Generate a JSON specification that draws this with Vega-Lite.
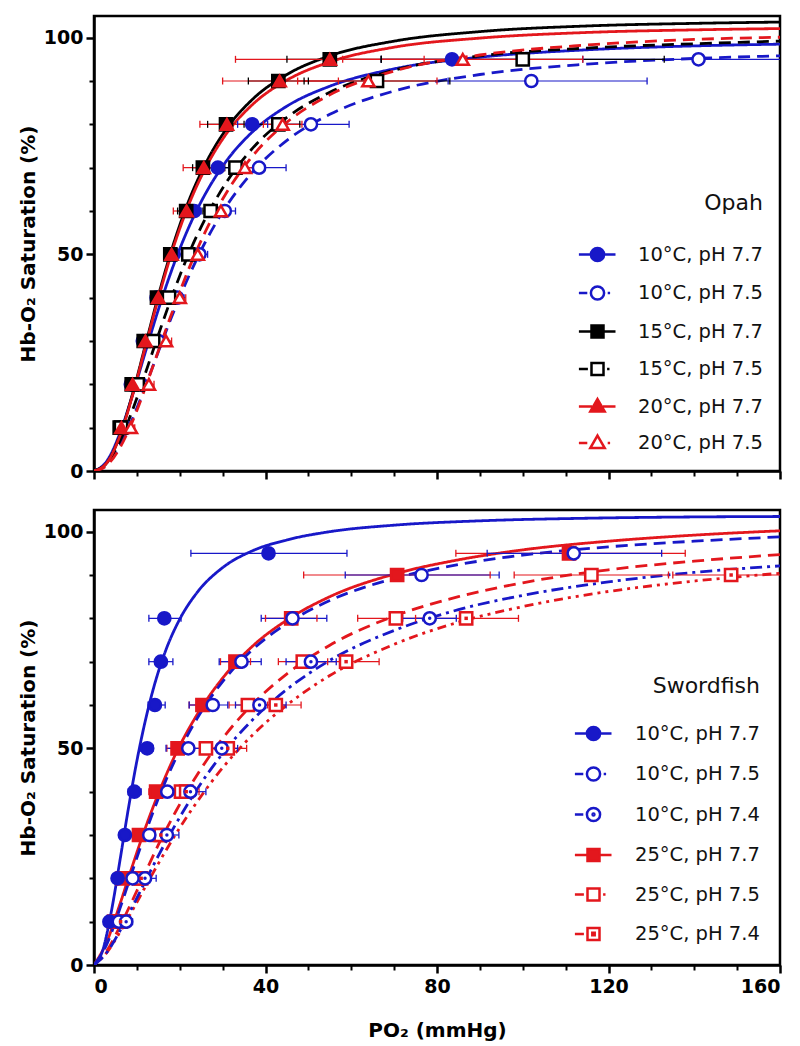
{
  "$schema": "https://vega.github.io/schema/vega-lite/v6.json",
  "padding": {"left": 17, "top": 14, "right": 19, "bottom": 5},
  "spacing": 39,
  "bounds": "flush",
  "config": {
    "font": "DejaVu Sans",
    "view": {"stroke": "#000", "strokeWidth": 2.5},
    "axis": {"grid": false, "domainColor": "#000", "domainWidth": 2.5, "tickColor": "#000", "labelColor": "#000", "titleColor": "#000", "labelFont": "DejaVu Sans", "titleFont": "DejaVu Sans", "labelFontWeight": "bold", "labelFontSize": 19, "titleFontWeight": "bold", "titleFontSize": 20},
    "legend": {"labelFont": "DejaVu Sans", "titleFont": "DejaVu Sans"}
  },
  "datasets": {
    "opahCurves": [
      {"s":"10°C, pH 7.7","x":0,"y":0},{"s":"10°C, pH 7.7","x":3,"y":2.3},{"s":"10°C, pH 7.7","x":6,"y":8.6},{"s":"10°C, pH 7.7","x":9,"y":17.6},{"s":"10°C, pH 7.7","x":12,"y":27.5},{"s":"10°C, pH 7.7","x":15,"y":37.2},{"s":"10°C, pH 7.7","x":18,"y":46.0},{"s":"10°C, pH 7.7","x":22,"y":56.0},{"s":"10°C, pH 7.7","x":26,"y":64.0},{"s":"10°C, pH 7.7","x":31,"y":71.7},{"s":"10°C, pH 7.7","x":37,"y":78.3},{"s":"10°C, pH 7.7","x":45,"y":84.2},{"s":"10°C, pH 7.7","x":55,"y":88.8},{"s":"10°C, pH 7.7","x":70,"y":92.8},{"s":"10°C, pH 7.7","x":90,"y":95.5},{"s":"10°C, pH 7.7","x":115,"y":97.2},{"s":"10°C, pH 7.7","x":140,"y":98.1},{"s":"10°C, pH 7.7","x":160,"y":98.5},
      {"s":"10°C, pH 7.5","x":0,"y":0},{"s":"10°C, pH 7.5","x":3,"y":1.5},{"s":"10°C, pH 7.5","x":6,"y":5.8},{"s":"10°C, pH 7.5","x":9,"y":12.1},{"s":"10°C, pH 7.5","x":12,"y":19.6},{"s":"10°C, pH 7.5","x":15,"y":27.5},{"s":"10°C, pH 7.5","x":18,"y":35.3},{"s":"10°C, pH 7.5","x":22,"y":44.7},{"s":"10°C, pH 7.5","x":26,"y":52.9},{"s":"10°C, pH 7.5","x":31,"y":61.3},{"s":"10°C, pH 7.5","x":37,"y":69.0},{"s":"10°C, pH 7.5","x":45,"y":76.3},{"s":"10°C, pH 7.5","x":55,"y":82.3},{"s":"10°C, pH 7.5","x":70,"y":87.7},{"s":"10°C, pH 7.5","x":90,"y":91.5},{"s":"10°C, pH 7.5","x":115,"y":93.9},{"s":"10°C, pH 7.5","x":140,"y":95.2},{"s":"10°C, pH 7.5","x":160,"y":95.8},
      {"s":"15°C, pH 7.5","x":0,"y":0},{"s":"15°C, pH 7.5","x":3,"y":1.8},{"s":"15°C, pH 7.5","x":6,"y":6.8},{"s":"15°C, pH 7.5","x":9,"y":14.1},{"s":"15°C, pH 7.5","x":12,"y":22.6},{"s":"15°C, pH 7.5","x":15,"y":31.4},{"s":"15°C, pH 7.5","x":18,"y":39.8},{"s":"15°C, pH 7.5","x":22,"y":49.9},{"s":"15°C, pH 7.5","x":26,"y":58.3},{"s":"15°C, pH 7.5","x":31,"y":66.8},{"s":"15°C, pH 7.5","x":37,"y":74.5},{"s":"15°C, pH 7.5","x":45,"y":81.6},{"s":"15°C, pH 7.5","x":55,"y":87.4},{"s":"15°C, pH 7.5","x":70,"y":92.5},{"s":"15°C, pH 7.5","x":90,"y":95.8},{"s":"15°C, pH 7.5","x":115,"y":97.6},{"s":"15°C, pH 7.5","x":140,"y":98.6},{"s":"15°C, pH 7.5","x":160,"y":99.2},
      {"s":"15°C, pH 7.7","x":0,"y":0},{"s":"15°C, pH 7.7","x":3,"y":1.9},{"s":"15°C, pH 7.7","x":6,"y":8.1},{"s":"15°C, pH 7.7","x":9,"y":17.8},{"s":"15°C, pH 7.7","x":12,"y":29.1},{"s":"15°C, pH 7.7","x":15,"y":40.4},{"s":"15°C, pH 7.7","x":18,"y":50.7},{"s":"15°C, pH 7.7","x":22,"y":62.1},{"s":"15°C, pH 7.7","x":26,"y":70.9},{"s":"15°C, pH 7.7","x":31,"y":79.1},{"s":"15°C, pH 7.7","x":37,"y":85.8},{"s":"15°C, pH 7.7","x":45,"y":91.5},{"s":"15°C, pH 7.7","x":55,"y":95.8},{"s":"15°C, pH 7.7","x":70,"y":99.2},{"s":"15°C, pH 7.7","x":90,"y":101.4},{"s":"15°C, pH 7.7","x":115,"y":102.7},{"s":"15°C, pH 7.7","x":140,"y":103.3},{"s":"15°C, pH 7.7","x":160,"y":103.6},
      {"s":"20°C, pH 7.5","x":0,"y":0},{"s":"20°C, pH 7.5","x":3,"y":1.3},{"s":"20°C, pH 7.5","x":6,"y":5.3},{"s":"20°C, pH 7.5","x":9,"y":11.5},{"s":"20°C, pH 7.5","x":12,"y":19.3},{"s":"20°C, pH 7.5","x":15,"y":27.7},{"s":"20°C, pH 7.5","x":18,"y":36.0},{"s":"20°C, pH 7.5","x":22,"y":46.4},{"s":"20°C, pH 7.5","x":26,"y":55.3},{"s":"20°C, pH 7.5","x":31,"y":64.4},{"s":"20°C, pH 7.5","x":37,"y":72.7},{"s":"20°C, pH 7.5","x":45,"y":80.5},{"s":"20°C, pH 7.5","x":55,"y":86.8},{"s":"20°C, pH 7.5","x":70,"y":92.3},{"s":"20°C, pH 7.5","x":90,"y":96.0},{"s":"20°C, pH 7.5","x":115,"y":98.3},{"s":"20°C, pH 7.5","x":140,"y":99.6},{"s":"20°C, pH 7.5","x":160,"y":100.1},
      {"s":"20°C, pH 7.7","x":0,"y":0},{"s":"20°C, pH 7.7","x":3,"y":1.9},{"s":"20°C, pH 7.7","x":6,"y":8.0},{"s":"20°C, pH 7.7","x":9,"y":17.5},{"s":"20°C, pH 7.7","x":12,"y":28.7},{"s":"20°C, pH 7.7","x":15,"y":39.8},{"s":"20°C, pH 7.7","x":18,"y":50.0},{"s":"20°C, pH 7.7","x":22,"y":61.2},{"s":"20°C, pH 7.7","x":26,"y":69.9},{"s":"20°C, pH 7.7","x":31,"y":78.0},{"s":"20°C, pH 7.7","x":37,"y":84.6},{"s":"20°C, pH 7.7","x":45,"y":90.2},{"s":"20°C, pH 7.7","x":55,"y":94.4},{"s":"20°C, pH 7.7","x":70,"y":97.8},{"s":"20°C, pH 7.7","x":90,"y":99.9},{"s":"20°C, pH 7.7","x":115,"y":101.2},{"s":"20°C, pH 7.7","x":140,"y":101.8},{"s":"20°C, pH 7.7","x":160,"y":102.1}
    ],
    "opahPts": [
      {"s":"10°C, pH 7.7","sat":10,"po2":6.2,"lo":5.5,"hi":7.0},{"s":"10°C, pH 7.7","sat":20,"po2":8.6,"lo":7.8,"hi":9.4},{"s":"10°C, pH 7.7","sat":30,"po2":11.4,"lo":10.5,"hi":12.3},{"s":"10°C, pH 7.7","sat":40,"po2":14.6,"lo":13.5,"hi":15.7},{"s":"10°C, pH 7.7","sat":50,"po2":18.6,"lo":17.4,"hi":19.8},{"s":"10°C, pH 7.7","sat":60,"po2":23.4,"lo":22,"hi":25},{"s":"10°C, pH 7.7","sat":70,"po2":28.9,"lo":26.5,"hi":31.5},{"s":"10°C, pH 7.7","sat":80,"po2":36.9,"lo":33.5,"hi":40.5},{"s":"10°C, pH 7.7","sat":95,"po2":83.5,"lo":67,"hi":100},
      {"s":"10°C, pH 7.5","sat":10,"po2":7.4,"lo":6.6,"hi":8.2},{"s":"10°C, pH 7.5","sat":20,"po2":11,"lo":10,"hi":12},{"s":"10°C, pH 7.5","sat":30,"po2":15,"lo":14,"hi":16.2},{"s":"10°C, pH 7.5","sat":40,"po2":19.4,"lo":18,"hi":21},{"s":"10°C, pH 7.5","sat":50,"po2":24.6,"lo":23,"hi":26.5},{"s":"10°C, pH 7.5","sat":60,"po2":30.5,"lo":28,"hi":33},{"s":"10°C, pH 7.5","sat":70,"po2":38.5,"lo":33.5,"hi":44.8},{"s":"10°C, pH 7.5","sat":80,"po2":50.6,"lo":42,"hi":59.5},{"s":"10°C, pH 7.5","sat":90,"po2":102,"lo":82.6,"hi":129},{"s":"10°C, pH 7.5","sat":95,"po2":141,"lo":114,"hi":175},
      {"s":"15°C, pH 7.7","sat":10,"po2":6.0,"lo":5.3,"hi":6.8},{"s":"15°C, pH 7.7","sat":20,"po2":8.8,"lo":8,"hi":9.6},{"s":"15°C, pH 7.7","sat":30,"po2":11.6,"lo":10.6,"hi":12.6},{"s":"15°C, pH 7.7","sat":40,"po2":14.7,"lo":13.6,"hi":15.8},{"s":"15°C, pH 7.7","sat":50,"po2":17.8,"lo":16.6,"hi":19},{"s":"15°C, pH 7.7","sat":60,"po2":21.5,"lo":19.5,"hi":23.5},{"s":"15°C, pH 7.7","sat":70,"po2":25.4,"lo":23,"hi":28},{"s":"15°C, pH 7.7","sat":80,"po2":30.8,"lo":26.5,"hi":35},{"s":"15°C, pH 7.7","sat":90,"po2":43,"lo":36,"hi":50},{"s":"15°C, pH 7.7","sat":95,"po2":55,"lo":45,"hi":67},
      {"s":"15°C, pH 7.5","sat":10,"po2":6.3,"lo":5.6,"hi":7.0},{"s":"15°C, pH 7.5","sat":20,"po2":10.2,"lo":9.3,"hi":11.1},{"s":"15°C, pH 7.5","sat":30,"po2":13.8,"lo":12.8,"hi":14.8},{"s":"15°C, pH 7.5","sat":40,"po2":17.5,"lo":16.3,"hi":18.7},{"s":"15°C, pH 7.5","sat":50,"po2":22,"lo":20.6,"hi":23.4},{"s":"15°C, pH 7.5","sat":60,"po2":27.2,"lo":25.4,"hi":29},{"s":"15°C, pH 7.5","sat":70,"po2":33,"lo":30.5,"hi":35.5},{"s":"15°C, pH 7.5","sat":80,"po2":43,"lo":38,"hi":48},{"s":"15°C, pH 7.5","sat":90,"po2":66,"lo":49,"hi":83},{"s":"15°C, pH 7.5","sat":95,"po2":100,"lo":67,"hi":133},
      {"s":"20°C, pH 7.7","sat":10,"po2":6.4,"lo":5.7,"hi":7.1},{"s":"20°C, pH 7.7","sat":20,"po2":9.0,"lo":8.2,"hi":9.8},{"s":"20°C, pH 7.7","sat":30,"po2":12,"lo":11,"hi":13},{"s":"20°C, pH 7.7","sat":40,"po2":15,"lo":14,"hi":16},{"s":"20°C, pH 7.7","sat":50,"po2":18.1,"lo":16.9,"hi":19.3},{"s":"20°C, pH 7.7","sat":60,"po2":21.6,"lo":18.5,"hi":24.7},{"s":"20°C, pH 7.7","sat":70,"po2":25.6,"lo":20.8,"hi":30.4},{"s":"20°C, pH 7.7","sat":80,"po2":31,"lo":24.7,"hi":37.3},{"s":"20°C, pH 7.7","sat":90,"po2":43.3,"lo":30,"hi":57},{"s":"20°C, pH 7.7","sat":95,"po2":55,"lo":33,"hi":77},
      {"s":"20°C, pH 7.5","sat":10,"po2":8.6,"lo":7.7,"hi":9.5},{"s":"20°C, pH 7.5","sat":20,"po2":12.8,"lo":11.6,"hi":14},{"s":"20°C, pH 7.5","sat":30,"po2":16.8,"lo":15.5,"hi":18.1},{"s":"20°C, pH 7.5","sat":40,"po2":20,"lo":18.6,"hi":21.4},{"s":"20°C, pH 7.5","sat":50,"po2":24.2,"lo":22.6,"hi":25.8},{"s":"20°C, pH 7.5","sat":60,"po2":29.6,"lo":27.5,"hi":31.7},{"s":"20°C, pH 7.5","sat":70,"po2":35.2,"lo":32.5,"hi":37.9},{"s":"20°C, pH 7.5","sat":80,"po2":44,"lo":39.5,"hi":48.5},{"s":"20°C, pH 7.5","sat":90,"po2":64,"lo":47.5,"hi":80},{"s":"20°C, pH 7.5","sat":95,"po2":86,"lo":58,"hi":114}
    ],
    "swordCurves": [
      {"s":"25°C, pH 7.7","x":0,"y":0},{"s":"25°C, pH 7.7","x":3,"y":5.4},{"s":"25°C, pH 7.7","x":6,"y":13.9},{"s":"25°C, pH 7.7","x":9,"y":23.0},{"s":"25°C, pH 7.7","x":12,"y":31.7},{"s":"25°C, pH 7.7","x":15,"y":39.5},{"s":"25°C, pH 7.7","x":19,"y":48.6},{"s":"25°C, pH 7.7","x":24,"y":57.7},{"s":"25°C, pH 7.7","x":30,"y":66.2},{"s":"25°C, pH 7.7","x":37,"y":73.6},{"s":"25°C, pH 7.7","x":45,"y":79.6},{"s":"25°C, pH 7.7","x":55,"y":85.0},{"s":"25°C, pH 7.7","x":70,"y":90.2},{"s":"25°C, pH 7.7","x":85,"y":93.5},{"s":"25°C, pH 7.7","x":100,"y":95.8},{"s":"25°C, pH 7.7","x":120,"y":97.8},{"s":"25°C, pH 7.7","x":140,"y":99.2},{"s":"25°C, pH 7.7","x":160,"y":100.2},
      {"s":"25°C, pH 7.5","x":0,"y":0},{"s":"25°C, pH 7.5","x":3,"y":3.3},{"s":"25°C, pH 7.5","x":6,"y":8.8},{"s":"25°C, pH 7.5","x":9,"y":15.0},{"s":"25°C, pH 7.5","x":12,"y":21.4},{"s":"25°C, pH 7.5","x":15,"y":27.7},{"s":"25°C, pH 7.5","x":19,"y":35.3},{"s":"25°C, pH 7.5","x":24,"y":43.8},{"s":"25°C, pH 7.5","x":30,"y":52.3},{"s":"25°C, pH 7.5","x":37,"y":60.2},{"s":"25°C, pH 7.5","x":45,"y":67.2},{"s":"25°C, pH 7.5","x":55,"y":73.8},{"s":"25°C, pH 7.5","x":70,"y":80.5},{"s":"25°C, pH 7.5","x":85,"y":85.0},{"s":"25°C, pH 7.5","x":100,"y":88.2},{"s":"25°C, pH 7.5","x":120,"y":91.2},{"s":"25°C, pH 7.5","x":140,"y":93.2},{"s":"25°C, pH 7.5","x":160,"y":94.7},
      {"s":"25°C, pH 7.4","x":0,"y":0},{"s":"25°C, pH 7.4","x":3,"y":2.9},{"s":"25°C, pH 7.4","x":6,"y":7.5},{"s":"25°C, pH 7.4","x":9,"y":12.7},{"s":"25°C, pH 7.4","x":12,"y":18.1},{"s":"25°C, pH 7.4","x":15,"y":23.4},{"s":"25°C, pH 7.4","x":19,"y":30.1},{"s":"25°C, pH 7.4","x":24,"y":37.6},{"s":"25°C, pH 7.4","x":30,"y":45.5},{"s":"25°C, pH 7.4","x":37,"y":53.1},{"s":"25°C, pH 7.4","x":45,"y":60.0},{"s":"25°C, pH 7.4","x":55,"y":66.8},{"s":"25°C, pH 7.4","x":70,"y":74.0},{"s":"25°C, pH 7.4","x":85,"y":79.1},{"s":"25°C, pH 7.4","x":100,"y":82.7},{"s":"25°C, pH 7.4","x":120,"y":86.2},{"s":"25°C, pH 7.4","x":140,"y":88.6},{"s":"25°C, pH 7.4","x":160,"y":90.4},
      {"s":"10°C, pH 7.7","x":0,"y":0},{"s":"10°C, pH 7.7","x":2,"y":3.3},{"s":"10°C, pH 7.7","x":4,"y":12.1},{"s":"10°C, pH 7.7","x":6,"y":23.8},{"s":"10°C, pH 7.7","x":8,"y":36.0},{"s":"10°C, pH 7.7","x":10,"y":47.1},{"s":"10°C, pH 7.7","x":12,"y":56.5},{"s":"10°C, pH 7.7","x":14,"y":64.3},{"s":"10°C, pH 7.7","x":17,"y":73.3},{"s":"10°C, pH 7.7","x":20,"y":79.8},{"s":"10°C, pH 7.7","x":24,"y":85.9},{"s":"10°C, pH 7.7","x":30,"y":91.7},{"s":"10°C, pH 7.7","x":37,"y":95.6},{"s":"10°C, pH 7.7","x":45,"y":98.1},{"s":"10°C, pH 7.7","x":55,"y":100.0},{"s":"10°C, pH 7.7","x":70,"y":101.5},{"s":"10°C, pH 7.7","x":90,"y":102.5},{"s":"10°C, pH 7.7","x":115,"y":103.1},{"s":"10°C, pH 7.7","x":140,"y":103.4},{"s":"10°C, pH 7.7","x":160,"y":103.5},
      {"s":"10°C, pH 7.5","x":0,"y":0},{"s":"10°C, pH 7.5","x":3,"y":4.8},{"s":"10°C, pH 7.5","x":6,"y":12.9},{"s":"10°C, pH 7.5","x":9,"y":21.8},{"s":"10°C, pH 7.5","x":12,"y":30.5},{"s":"10°C, pH 7.5","x":15,"y":38.4},{"s":"10°C, pH 7.5","x":19,"y":47.5},{"s":"10°C, pH 7.5","x":24,"y":56.8},{"s":"10°C, pH 7.5","x":30,"y":65.4},{"s":"10°C, pH 7.5","x":37,"y":72.8},{"s":"10°C, pH 7.5","x":45,"y":78.8},{"s":"10°C, pH 7.5","x":55,"y":84.1},{"s":"10°C, pH 7.5","x":70,"y":89.2},{"s":"10°C, pH 7.5","x":85,"y":92.4},{"s":"10°C, pH 7.5","x":100,"y":94.6},{"s":"10°C, pH 7.5","x":120,"y":96.5},{"s":"10°C, pH 7.5","x":140,"y":97.8},{"s":"10°C, pH 7.5","x":160,"y":98.8},
      {"s":"10°C, pH 7.4","x":0,"y":0},{"s":"10°C, pH 7.4","x":3,"y":2.9},{"s":"10°C, pH 7.4","x":6,"y":7.8},{"s":"10°C, pH 7.4","x":9,"y":13.5},{"s":"10°C, pH 7.4","x":12,"y":19.4},{"s":"10°C, pH 7.4","x":15,"y":25.2},{"s":"10°C, pH 7.4","x":19,"y":32.4},{"s":"10°C, pH 7.4","x":24,"y":40.5},{"s":"10°C, pH 7.4","x":30,"y":48.8},{"s":"10°C, pH 7.4","x":37,"y":56.6},{"s":"10°C, pH 7.4","x":45,"y":63.6},{"s":"10°C, pH 7.4","x":55,"y":70.3},{"s":"10°C, pH 7.4","x":70,"y":77.2},{"s":"10°C, pH 7.4","x":85,"y":82.0},{"s":"10°C, pH 7.4","x":100,"y":85.3},{"s":"10°C, pH 7.4","x":120,"y":88.4},{"s":"10°C, pH 7.4","x":140,"y":90.6},{"s":"10°C, pH 7.4","x":160,"y":92.1}
    ],
    "swordPts": [
      {"s":"25°C, pH 7.7","sat":10,"po2":4.7,"lo":4,"hi":5.5},{"s":"25°C, pH 7.7","sat":20,"po2":6.7,"lo":5.5,"hi":8},{"s":"25°C, pH 7.7","sat":30,"po2":10.5,"lo":9,"hi":12},{"s":"25°C, pH 7.7","sat":40,"po2":14.5,"lo":12.8,"hi":16.2},{"s":"25°C, pH 7.7","sat":50,"po2":19.5,"lo":17,"hi":22},{"s":"25°C, pH 7.7","sat":60,"po2":25.3,"lo":22.2,"hi":28.4},{"s":"25°C, pH 7.7","sat":70,"po2":33,"lo":29.5,"hi":36.5},{"s":"25°C, pH 7.7","sat":80,"po2":46,"lo":40,"hi":52},{"s":"25°C, pH 7.7","sat":90,"po2":70.7,"lo":48.9,"hi":92.4},{"s":"25°C, pH 7.7","sat":95,"po2":110.8,"lo":84.4,"hi":137.9},
      {"s":"25°C, pH 7.5","sat":10,"po2":5.5,"lo":4.5,"hi":6.5},{"s":"25°C, pH 7.5","sat":20,"po2":10.5,"lo":9,"hi":12},{"s":"25°C, pH 7.5","sat":30,"po2":14.8,"lo":13,"hi":16.8},{"s":"25°C, pH 7.5","sat":40,"po2":20.3,"lo":18,"hi":22.8},{"s":"25°C, pH 7.5","sat":50,"po2":26.1,"lo":23,"hi":29.2},{"s":"25°C, pH 7.5","sat":60,"po2":35.9,"lo":31.5,"hi":40.5},{"s":"25°C, pH 7.5","sat":70,"po2":48.7,"lo":43,"hi":54.5},{"s":"25°C, pH 7.5","sat":80,"po2":70.4,"lo":61.5,"hi":79.5},{"s":"25°C, pH 7.5","sat":90,"po2":116,"lo":98,"hi":134},
      {"s":"25°C, pH 7.4","sat":10,"po2":6.2,"lo":5,"hi":7.5},{"s":"25°C, pH 7.4","sat":20,"po2":11,"lo":9.5,"hi":12.5},{"s":"25°C, pH 7.4","sat":30,"po2":15.6,"lo":13.5,"hi":17.8},{"s":"25°C, pH 7.4","sat":40,"po2":21.5,"lo":18.5,"hi":24.5},{"s":"25°C, pH 7.4","sat":50,"po2":31.2,"lo":27,"hi":35.6},{"s":"25°C, pH 7.4","sat":60,"po2":42.4,"lo":37,"hi":48.3},{"s":"25°C, pH 7.4","sat":70,"po2":58.8,"lo":51,"hi":66.5},{"s":"25°C, pH 7.4","sat":80,"po2":86.8,"lo":75,"hi":99},{"s":"25°C, pH 7.4","sat":90,"po2":148.6,"lo":135,"hi":170},
      {"s":"10°C, pH 7.7","sat":10,"po2":3.6,"lo":2.8,"hi":4.5},{"s":"10°C, pH 7.7","sat":20,"po2":5.5,"lo":4.5,"hi":6.5},{"s":"10°C, pH 7.7","sat":30,"po2":7.2,"lo":6,"hi":8.5},{"s":"10°C, pH 7.7","sat":40,"po2":9.4,"lo":8,"hi":11},{"s":"10°C, pH 7.7","sat":50,"po2":12.4,"lo":10.8,"hi":13.8},{"s":"10°C, pH 7.7","sat":60,"po2":14.2,"lo":12.6,"hi":16.6},{"s":"10°C, pH 7.7","sat":70,"po2":15.6,"lo":12.8,"hi":18.4},{"s":"10°C, pH 7.7","sat":80,"po2":16.4,"lo":12.8,"hi":20.3},{"s":"10°C, pH 7.7","sat":95,"po2":40.7,"lo":22.6,"hi":59},
      {"s":"10°C, pH 7.5","sat":10,"po2":5.8,"lo":4.6,"hi":7.2},{"s":"10°C, pH 7.5","sat":20,"po2":9,"lo":7.5,"hi":10.8},{"s":"10°C, pH 7.5","sat":30,"po2":12.9,"lo":11,"hi":14.8},{"s":"10°C, pH 7.5","sat":40,"po2":17.1,"lo":15,"hi":19.4},{"s":"10°C, pH 7.5","sat":50,"po2":22,"lo":16.8,"hi":25.3},{"s":"10°C, pH 7.5","sat":60,"po2":27.7,"lo":22.2,"hi":31.2},{"s":"10°C, pH 7.5","sat":70,"po2":34.4,"lo":29.2,"hi":39},{"s":"10°C, pH 7.5","sat":80,"po2":46.3,"lo":39,"hi":54.3},{"s":"10°C, pH 7.5","sat":90,"po2":76.4,"lo":58.6,"hi":94.5},{"s":"10°C, pH 7.5","sat":95,"po2":111.9,"lo":91.7,"hi":132.4},
      {"s":"10°C, pH 7.4","sat":10,"po2":7.5,"lo":6,"hi":9},{"s":"10°C, pH 7.4","sat":20,"po2":11.9,"lo":10,"hi":14.5},{"s":"10°C, pH 7.4","sat":30,"po2":17,"lo":14.5,"hi":19.8},{"s":"10°C, pH 7.4","sat":40,"po2":22.5,"lo":19.2,"hi":26.1},{"s":"10°C, pH 7.4","sat":50,"po2":29.8,"lo":26,"hi":33.5},{"s":"10°C, pH 7.4","sat":60,"po2":38.6,"lo":33,"hi":44.8},{"s":"10°C, pH 7.4","sat":70,"po2":50.6,"lo":44.8,"hi":56.5},{"s":"10°C, pH 7.4","sat":80,"po2":78.3,"lo":72,"hi":84.5}
    ]
  },
  "vconcat": [
    {
      "width": 686, "height": 455,
      "layer": [
        {
          "data": {"name": "opahCurves"},
          "mark": {"type": "line", "interpolate": "monotone", "strokeWidth": 2.8, "clip": true},
          "encoding": {
            "x": {"field": "x", "type": "quantitative", "scale": {"domain": [0, 160], "nice": false},
              "axis": {"title": null, "labels": false, "values": [0,10,20,30,40,50,60,70,80,90,100,110,120,130,140,150,160],
                "tickSize": {"condition": {"test": "datum.value % 40 === 0", "value": 8}, "value": 5},
                "tickWidth": {"condition": {"test": "datum.value % 40 === 0", "value": 2.5}, "value": 2}}},
            "y": {"field": "y", "type": "quantitative", "scale": {"domain": [0, 105], "nice": false},
              "axis": {"title": "Hb-O₂ Saturation (%)", "titlePadding": 5, "labelPadding": 3,
                "values": [0,5,10,15,20,25,30,35,40,45,50,55,60,65,70,75,80,85,90,95,100],
                "labelExpr": "datum.value % 25 === 0 ? datum.label : ''",
                "tickSize": {"condition": {"test": "datum.value % 25 === 0", "value": 8}, "value": 5},
                "tickWidth": {"condition": {"test": "datum.value % 25 === 0", "value": 2.5}, "value": 2}}},
            "color": {"field": "s", "type": "nominal", "legend": null,
              "scale": {"domain": ["10°C, pH 7.7","10°C, pH 7.5","15°C, pH 7.7","15°C, pH 7.5","20°C, pH 7.7","20°C, pH 7.5"],
                "range": ["#1818c8","#1818c8","#000000","#000000","#e3171d","#e3171d"]}},
            "strokeDash": {"field": "s", "type": "nominal", "legend": null,
              "scale": {"domain": ["10°C, pH 7.7","10°C, pH 7.5","15°C, pH 7.7","15°C, pH 7.5","20°C, pH 7.7","20°C, pH 7.5"],
                "range": [[1,0],[12,7],[1,0],[12,7],[1,0],[12,7]]}}
          }
        },
        {
          "data": {"name": "opahPts"},
          "mark": {"type": "rule", "strokeWidth": 1.2, "clip": true},
          "encoding": {
            "x": {"field": "lo", "type": "quantitative"},
            "x2": {"field": "hi"},
            "y": {"field": "sat", "type": "quantitative"},
            "color": {"field": "s", "type": "nominal", "legend": null,
              "scale": {"domain": ["10°C, pH 7.7","10°C, pH 7.5","15°C, pH 7.7","15°C, pH 7.5","20°C, pH 7.7","20°C, pH 7.5"],
                "range": ["#1818c8","#1818c8","#000000","#000000","#e3171d","#e3171d"]}}
          }
        },
        {
          "data": {"name": "opahPts"},
          "transform": [{"fold": ["lo", "hi"], "as": ["k", "v"]}],
          "mark": {"type": "tick", "orient": "vertical", "size": 7, "thickness": 1.3, "clip": true, "opacity": 1},
          "encoding": {
            "x": {"field": "v", "type": "quantitative"},
            "y": {"field": "sat", "type": "quantitative"},
            "color": {"field": "s", "type": "nominal", "legend": null,
              "scale": {"domain": ["10°C, pH 7.7","10°C, pH 7.5","15°C, pH 7.7","15°C, pH 7.5","20°C, pH 7.7","20°C, pH 7.5"],
                "range": ["#1818c8","#1818c8","#000000","#000000","#e3171d","#e3171d"]}}
          }
        },
        {
          "data": {"name": "opahPts"},
          "mark": {"type": "point", "size": 150, "strokeWidth": 2.5, "opacity": 1},
          "encoding": {
            "x": {"field": "po2", "type": "quantitative"},
            "y": {"field": "sat", "type": "quantitative"},
            "shape": {"field": "s", "type": "nominal", "legend": null,
              "scale": {"domain": ["10°C, pH 7.7","10°C, pH 7.5","15°C, pH 7.7","15°C, pH 7.5","20°C, pH 7.7","20°C, pH 7.5"],
                "range": ["circle","circle","square","square","triangle-up","triangle-up"]}},
            "stroke": {"field": "s", "type": "nominal", "legend": null,
              "scale": {"domain": ["10°C, pH 7.7","10°C, pH 7.5","15°C, pH 7.7","15°C, pH 7.5","20°C, pH 7.7","20°C, pH 7.5"],
                "range": ["#1818c8","#1818c8","#000000","#000000","#e3171d","#e3171d"]}},
            "fill": {"field": "s", "type": "nominal", "legend": null,
              "scale": {"domain": ["10°C, pH 7.7","10°C, pH 7.5","15°C, pH 7.7","15°C, pH 7.5","20°C, pH 7.7","20°C, pH 7.5"],
                "range": ["#1818c8","#ffffff","#000000","#ffffff","#e3171d","#ffffff"]}}
          }
        },
        {
          "data": {"name": "opahPts"},
          "transform": [{"filter": "false"}],
          "mark": {"type": "point", "size": 576, "strokeWidth": 2.5, "opacity": 1},
          "encoding": {
            "x": {"field": "po2", "type": "quantitative"},
            "y": {"field": "sat", "type": "quantitative"},
            "shape": {"field": "s", "type": "nominal",
              "scale": {"domain": ["10°C, pH 7.7","10°C, pH 7.5","15°C, pH 7.7","15°C, pH 7.5","20°C, pH 7.7","20°C, pH 7.5"],
                "range": [
                  "M-1.55,0H-0.55M0.55,0H1.5M-0.55,0A0.55,0.55,0,1,1,0.55,0A0.55,0.55,0,1,1,-0.55,0Z",
                  "M-1.55,0H-0.85M-0.55,0A0.55,0.55,0,1,1,0.55,0A0.55,0.55,0,1,1,-0.55,0ZM0.85,0H1.05",
                  "M-1.55,0H-0.5M0.5,0H1.5M-0.5,-0.5H0.5V0.5H-0.5Z",
                  "M-1.55,0H-0.8M-0.5,-0.5H0.5V0.5H-0.5ZM0.8,0H1.0",
                  "M-1.55,0H-0.45M0.45,0H1.5M0,-0.62L0.6,0.42H-0.6Z",
                  "M-1.55,0H-0.85M0,-0.62L0.6,0.42H-0.6ZM0.85,0H1.05"
                ]},
              "legend": {"title": "Opah", "orient": "bottom-right", "offset": 17, "padding": 0,
                "titleFontSize": 22, "titleFontWeight": "normal", "titleColor": "#111", "titleAnchor": "end", "titlePadding": 26,
                "labelFontSize": 19.5, "labelColor": "#111", "labelOffset": 27, "rowPadding": 12.5,
                "symbolSize": 576, "symbolStrokeWidth": 2.5, "symbolOpacity": 1}},
            "stroke": {"field": "s", "type": "nominal",
              "scale": {"domain": ["10°C, pH 7.7","10°C, pH 7.5","15°C, pH 7.7","15°C, pH 7.5","20°C, pH 7.7","20°C, pH 7.5"],
                "range": ["#1818c8","#1818c8","#000000","#000000","#e3171d","#e3171d"]}},
            "fill": {"field": "s", "type": "nominal",
              "scale": {"domain": ["10°C, pH 7.7","10°C, pH 7.5","15°C, pH 7.7","15°C, pH 7.5","20°C, pH 7.7","20°C, pH 7.5"],
                "range": ["#1818c8","#ffffff","#000000","#ffffff","#e3171d","#ffffff"]}}
          }
        }
      ],
      "resolve": {"scale": {"color": "independent", "shape": "independent", "fill": "independent", "stroke": "independent", "strokeDash": "independent"}}
    },
    {
      "width": 686, "height": 455,
      "layer": [
        {
          "data": {"name": "swordCurves"},
          "mark": {"type": "line", "interpolate": "monotone", "strokeWidth": 2.8, "clip": true},
          "encoding": {
            "x": {"field": "x", "type": "quantitative", "scale": {"domain": [0, 160], "nice": false},
              "axis": {"title": "PO₂ (mmHg)", "titlePadding": 24, "labelPadding": 4, "values": [0,10,20,30,40,50,60,70,80,90,100,110,120,130,140,150,160],
                "labelExpr": "datum.value % 40 === 0 ? datum.label : ''",
                "tickSize": {"condition": {"test": "datum.value % 40 === 0", "value": 8}, "value": 5},
                "tickWidth": {"condition": {"test": "datum.value % 40 === 0", "value": 2.5}, "value": 2}}},
            "y": {"field": "y", "type": "quantitative", "scale": {"domain": [0, 105], "nice": false},
              "axis": {"title": "Hb-O₂ Saturation (%)", "titlePadding": 5, "labelPadding": 3,
                "values": [0,5,10,15,20,25,30,35,40,45,50,55,60,65,70,75,80,85,90,95,100],
                "labelExpr": "datum.value % 25 === 0 ? datum.label : ''",
                "tickSize": {"condition": {"test": "datum.value % 25 === 0", "value": 8}, "value": 5},
                "tickWidth": {"condition": {"test": "datum.value % 25 === 0", "value": 2.5}, "value": 2}}},
            "color": {"field": "s", "type": "nominal", "legend": null,
              "scale": {"domain": ["10°C, pH 7.7","10°C, pH 7.5","10°C, pH 7.4","25°C, pH 7.7","25°C, pH 7.5","25°C, pH 7.4"],
                "range": ["#1818c8","#1818c8","#1818c8","#e3171d","#e3171d","#e3171d"]}},
            "strokeDash": {"field": "s", "type": "nominal", "legend": null,
              "scale": {"domain": ["10°C, pH 7.7","10°C, pH 7.5","10°C, pH 7.4","25°C, pH 7.7","25°C, pH 7.5","25°C, pH 7.4"],
                "range": [[1,0],[12,7],[12,5,3,5],[1,0],[12,7],[3,5,3,5,9,5]]}}
          }
        },
        {
          "data": {"name": "swordPts"},
          "mark": {"type": "rule", "strokeWidth": 1.2, "clip": true},
          "encoding": {
            "x": {"field": "lo", "type": "quantitative"},
            "x2": {"field": "hi"},
            "y": {"field": "sat", "type": "quantitative"},
            "color": {"field": "s", "type": "nominal", "legend": null,
              "scale": {"domain": ["10°C, pH 7.7","10°C, pH 7.5","10°C, pH 7.4","25°C, pH 7.7","25°C, pH 7.5","25°C, pH 7.4"],
                "range": ["#1818c8","#1818c8","#1818c8","#e3171d","#e3171d","#e3171d"]}}
          }
        },
        {
          "data": {"name": "swordPts"},
          "transform": [{"fold": ["lo", "hi"], "as": ["k", "v"]}],
          "mark": {"type": "tick", "orient": "vertical", "size": 7, "thickness": 1.3, "clip": true, "opacity": 1},
          "encoding": {
            "x": {"field": "v", "type": "quantitative"},
            "y": {"field": "sat", "type": "quantitative"},
            "color": {"field": "s", "type": "nominal", "legend": null,
              "scale": {"domain": ["10°C, pH 7.7","10°C, pH 7.5","10°C, pH 7.4","25°C, pH 7.7","25°C, pH 7.5","25°C, pH 7.4"],
                "range": ["#1818c8","#1818c8","#1818c8","#e3171d","#e3171d","#e3171d"]}}
          }
        },
        {
          "data": {"name": "swordPts"},
          "mark": {"type": "point", "size": 150, "strokeWidth": 2.5, "opacity": 1},
          "encoding": {
            "x": {"field": "po2", "type": "quantitative"},
            "y": {"field": "sat", "type": "quantitative"},
            "shape": {"field": "s", "type": "nominal", "legend": null,
              "scale": {"domain": ["10°C, pH 7.7","10°C, pH 7.5","10°C, pH 7.4","25°C, pH 7.7","25°C, pH 7.5","25°C, pH 7.4"],
                "range": ["circle","circle","circle","square","square","square"]}},
            "stroke": {"field": "s", "type": "nominal", "legend": null,
              "scale": {"domain": ["10°C, pH 7.7","10°C, pH 7.5","10°C, pH 7.4","25°C, pH 7.7","25°C, pH 7.5","25°C, pH 7.4"],
                "range": ["#1818c8","#1818c8","#1818c8","#e3171d","#e3171d","#e3171d"]}},
            "fill": {"field": "s", "type": "nominal", "legend": null,
              "scale": {"domain": ["10°C, pH 7.7","10°C, pH 7.5","10°C, pH 7.4","25°C, pH 7.7","25°C, pH 7.5","25°C, pH 7.4"],
                "range": ["#1818c8","#ffffff","#ffffff","#e3171d","#ffffff","#ffffff"]}}
          }
        },
        {
          "data": {"name": "swordPts"},
          "transform": [{"filter": "indexof(datum.s, '7.4') >= 0"}],
          "mark": {"type": "point", "size": 12, "filled": true, "opacity": 1},
          "encoding": {
            "x": {"field": "po2", "type": "quantitative"},
            "y": {"field": "sat", "type": "quantitative"},
            "shape": {"field": "s", "type": "nominal", "legend": null,
              "scale": {"domain": ["10°C, pH 7.4","25°C, pH 7.4"], "range": ["circle","square"]}},
            "color": {"field": "s", "type": "nominal", "legend": null,
              "scale": {"domain": ["10°C, pH 7.4","25°C, pH 7.4"], "range": ["#1818c8","#e3171d"]}}
          }
        },
        {
          "data": {"name": "swordPts"},
          "transform": [{"filter": "false"}],
          "mark": {"type": "point", "size": 576, "strokeWidth": 2.5, "opacity": 1},
          "encoding": {
            "x": {"field": "po2", "type": "quantitative"},
            "y": {"field": "sat", "type": "quantitative"},
            "shape": {"field": "s", "type": "nominal",
              "scale": {"domain": ["10°C, pH 7.7","10°C, pH 7.5","10°C, pH 7.4","25°C, pH 7.7","25°C, pH 7.5","25°C, pH 7.4"],
                "range": [
                  "M-1.55,0H-0.55M0.55,0H1.5M-0.55,0A0.55,0.55,0,1,1,0.55,0A0.55,0.55,0,1,1,-0.55,0Z",
                  "M-1.55,0H-0.85M-0.55,0A0.55,0.55,0,1,1,0.55,0A0.55,0.55,0,1,1,-0.55,0ZM0.85,0H1.05",
                  "M-1.55,0H-0.85M-0.55,0A0.55,0.55,0,1,1,0.55,0A0.55,0.55,0,1,1,-0.55,0ZM-0.08,0A0.08,0.08,0,1,1,0.08,0A0.08,0.08,0,1,1,-0.08,0Z",
                  "M-1.55,0H-0.5M0.5,0H1.5M-0.5,-0.5H0.5V0.5H-0.5Z",
                  "M-1.55,0H-0.8M-0.5,-0.5H0.5V0.5H-0.5ZM0.8,0H1.0",
                  "M-1.55,0H-0.8M-0.5,-0.5H0.5V0.5H-0.5ZM-0.1,-0.1H0.1V0.1H-0.1Z"
                ]},
              "legend": {"title": "Swordfish", "orient": "bottom-right", "offset": 20, "padding": 0,
                "titleFontSize": 22, "titleFontWeight": "normal", "titleColor": "#111", "titleAnchor": "end", "titlePadding": 22,
                "labelFontSize": 19.5, "labelColor": "#111", "labelOffset": 28, "rowPadding": 14.5,
                "symbolSize": 576, "symbolStrokeWidth": 2.5, "symbolOpacity": 1}},
            "stroke": {"field": "s", "type": "nominal",
              "scale": {"domain": ["10°C, pH 7.7","10°C, pH 7.5","10°C, pH 7.4","25°C, pH 7.7","25°C, pH 7.5","25°C, pH 7.4"],
                "range": ["#1818c8","#1818c8","#1818c8","#e3171d","#e3171d","#e3171d"]}},
            "fill": {"field": "s", "type": "nominal",
              "scale": {"domain": ["10°C, pH 7.7","10°C, pH 7.5","10°C, pH 7.4","25°C, pH 7.7","25°C, pH 7.5","25°C, pH 7.4"],
                "range": ["#1818c8","#ffffff","#ffffff","#e3171d","#ffffff","#ffffff"]}}
          }
        }
      ],
      "resolve": {"scale": {"color": "independent", "shape": "independent", "fill": "independent", "stroke": "independent", "strokeDash": "independent"}}
    }
  ],
  "resolve": {
    "scale": {"color": "independent", "shape": "independent", "fill": "independent", "stroke": "independent", "strokeDash": "independent"},
    "legend": {"shape": "independent", "stroke": "independent", "fill": "independent", "color": "independent"}
  }
}
